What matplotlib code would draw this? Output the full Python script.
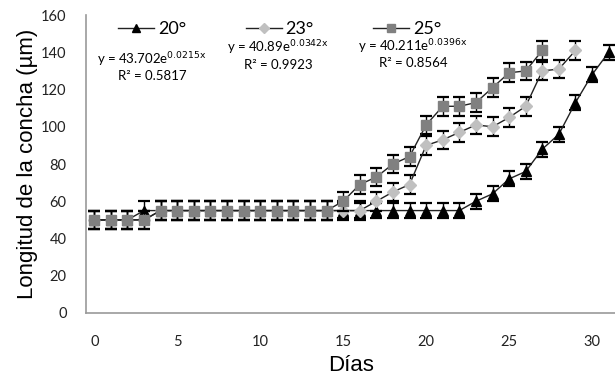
import matplotlib
matplotlib.use("Agg")
import matplotlib.pyplot as plt

plt.rcParams['font.family'] = ['Lato', 'DejaVu Sans']

dias = list(range(32))

# 20 grados: hasta dia 31
t20 = [50, 50, 50, 55, 55, 55, 55, 55, 55, 55, 55, 55, 55, 55, 55, 55,
       55, 55, 55, 55, 55, 55, 55, 60, 64, 72, 76, 88, 96, 113, 128, 140]
e20 = [5] * 15 + [4] * 17
# 23 grados: hasta dia 29
t23 = [50, 50, 50, 50, 55, 55, 55, 55, 55, 55, 55, 55, 55, 55, 55, 55,
       55, 60, 65, 69, 90, 93, 97, 101, 100, 105, 111, 130, 131, 141]
e23 = [5] * 30
# 25 grados: hasta dia 27
t25 = [50, 50, 50, 50, 55, 55, 55, 55, 55, 55, 55, 55, 55, 55, 55, 60,
       69, 73, 80, 84, 101, 111, 111, 113, 121, 129, 130, 141]
e25 = [5] * 28

leyenda = ["20°", "23°", "25°"]
ecuaciones = [(r"y = 43.702e$^{\mathrm{0.0215x}}$", "R² = 0.5817"),
              (r"y = 40.89e$^{\mathrm{0.0342x}}$", "R² = 0.9923"),
              (r"y = 40.211e$^{\mathrm{0.0396x}}$", "R² = 0.8564")]

fig = plt.figure(figsize=(6.15, 3.81), dpi=100)
ax = fig.add_axes([0.1398, 0.1785, 0.8634, 0.782])

estilos = [("^", "black", 7), ("D", "#c0c0c0", 6), ("s", "#808080", 7)]
series = [(t20, e20), (t23, e23), (t25, e25)]
for (y, e), (m, c, ms), lab in zip(series, estilos, leyenda):
    x = dias[:len(y)]
    ax.errorbar(x, y, yerr=e, fmt="none", ecolor="black", elinewidth=1,
                capsize=4.5, capthick=1.6)
    ax.plot(x, y, color="#222222", lw=1, marker=m, markersize=ms,
            markerfacecolor=c, markeredgecolor=c, label=lab)

ax.set_xlim(-0.5, 31.5)
ax.set_ylim(0, 160)
ax.set_xticks(range(0, 31, 5))
ax.set_yticks(range(0, 161, 20))
ax.tick_params(length=0, labelsize=10.5, colors="#222222")
ax.tick_params(axis="x", pad=16)
ax.tick_params(axis="y", pad=14)
for s in ["top", "right"]:
    ax.spines[s].set_visible(False)
for s in ["left", "bottom"]:
    ax.spines[s].set_color("#999999")
    ax.spines[s].set_linewidth(1.2)

fuente = ["Liberation Sans", "DejaVu Sans"]
ax.set_xlabel("Días", family=fuente, fontsize=16, labelpad=4)
ax.set_ylabel("Longitud de la concha (µm)", family=fuente, fontsize=16,
              labelpad=2)

ax.legend(ncol=3, loc="upper left", bbox_to_anchor=(0.03, 1.035), frameon=False,
          fontsize=13, handlelength=2.0, handletextpad=0.2, columnspacing=3.3,
          markerscale=0.85)

pos = [(0.124, 0.849, 0.795), (0.362, 0.889, 0.832), (0.616, 0.893, 0.839)]
for (eq, r2), (px, py1, py2) in zip(ecuaciones, pos):
    ax.text(px, py1, eq, transform=ax.transAxes, ha="center", va="center",
            fontsize=9.5)
    ax.text(px, py2, r2, transform=ax.transAxes, ha="center", va="center",
            fontsize=9.5)

fig.savefig("out.png", dpi=100)
